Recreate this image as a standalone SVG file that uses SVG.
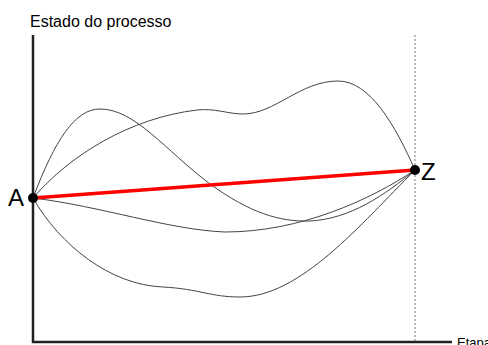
<svg xmlns="http://www.w3.org/2000/svg" width="488" height="345" viewBox="0 0 488 345">
<style>
.axis{stroke:#222;stroke-width:2.5;fill:none}
.path{stroke:#444;stroke-width:1;fill:none}
.lbl{font-family:"Liberation Sans",Arial,sans-serif;fill:#000}
</style>
<rect width="488" height="345" fill="#fff"/>
<g id="axes">
<line class="axis" x1="33" y1="35" x2="33" y2="343"/>
<line class="axis" x1="32" y1="342" x2="452" y2="342"/>
<line x1="415" y1="35" x2="415" y2="341" stroke="#777" stroke-width="1" stroke-dasharray="2,2"/>
<text class="lbl" x="30" y="27" font-size="16">Estado do processo</text>
<text class="lbl" x="457" y="347" font-size="13">Etapa</text>
</g>
<g id="connectors">
<path class="path" d="M33,198 C55,140 75,109 100,109 C135,109 165,150 210,184 C250,213 280,222 310,221 C350,219 385,195 415,170"/>
<path class="path" d="M33,198 C70,155 130,118 197,110 C215,108 228,114 243,114 C275,114 300,81 338,81 C370,81 395,125 415,170"/>
<path class="path" d="M33,198 C100,206 170,230 225,232 C300,232 370,200 415,170"/>
<path class="path" d="M33,198 C60,245 110,285 163,287 C200,289 210,297 240,297 C300,297 360,225 415,170"/>
<line x1="33" y1="198" x2="415" y2="170" stroke="#ff0000" stroke-width="3.5"/>
</g>
<g id="A">
<circle cx="33" cy="198" r="5" fill="#000"/>
<text class="lbl" x="8" y="206" font-size="24">A</text>
</g>
<g id="Z">
<circle cx="415" cy="170" r="5" fill="#000"/>
<text class="lbl" x="421" y="180" font-size="24">Z</text>
</g>
</svg>
